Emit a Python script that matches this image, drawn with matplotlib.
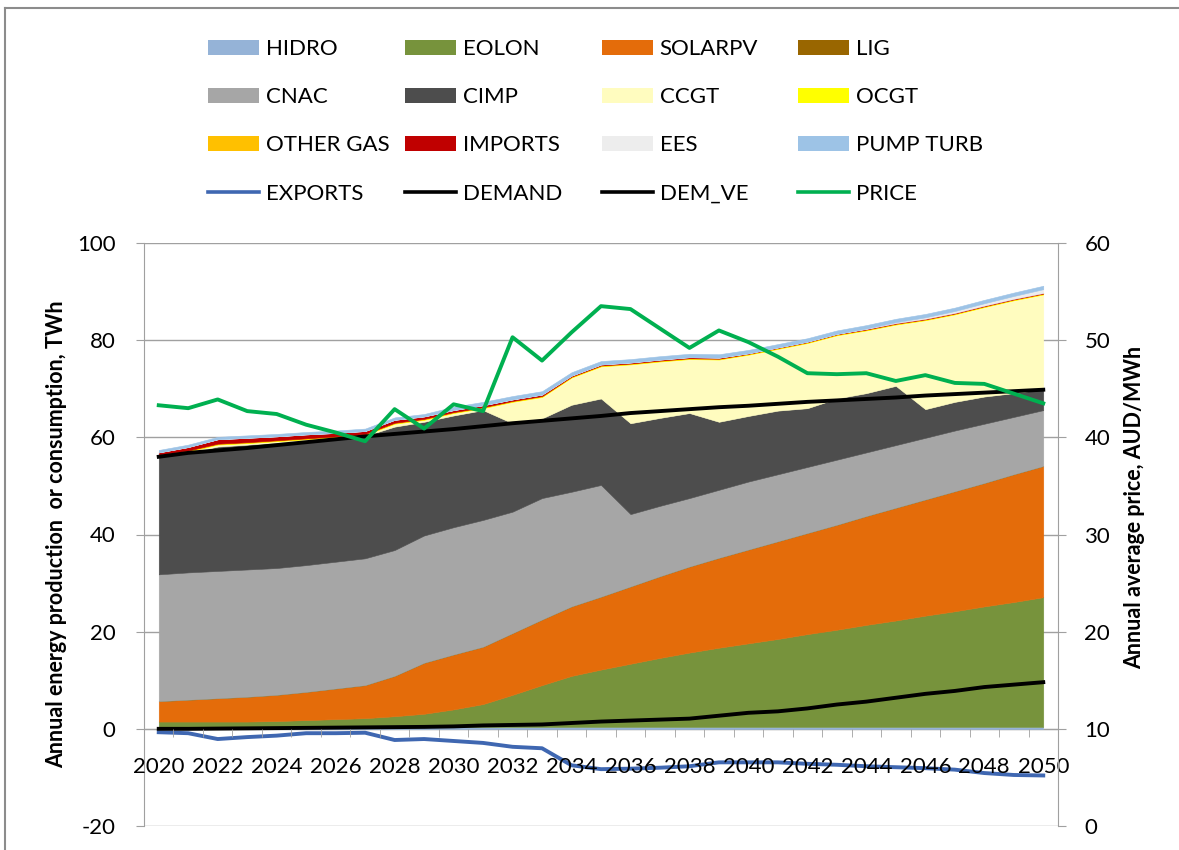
import numpy as np
import matplotlib
matplotlib.use('Agg')
from matplotlib import pyplot as plt
from matplotlib.patches import Patch
from matplotlib.lines import Line2D
from matplotlib.ticker import MultipleLocator, FixedLocator

plt.rcParams['font.family'] = ['Lato', 'DejaVu Sans']
plt.rcParams['font.size'] = 16
plt.rcParams['axes.unicode_minus'] = False

years = list(range(2020, 2051))

# generation by technology, TWh (stacked bottom to top)
hidro = [0.4] * 31
eolon = [1.1, 1.1, 1.1, 1.1, 1.2, 1.4, 1.6, 1.8, 2.2, 2.7, 3.6, 4.7, 6.6, 8.6, 10.5, 11.8,
         13.0, 14.2, 15.3, 16.3, 17.2, 18.1, 19.1, 20.0, 21.0, 21.9, 22.9, 23.8, 24.8, 25.7, 26.7]
solarpv = [4.2, 4.5, 4.8, 5.1, 5.4, 5.8, 6.3, 6.8, 8.3, 10.5, 11.3, 11.8, 12.7, 13.5, 14.3, 15.0,
           15.9, 16.8, 17.7, 18.5, 19.3, 20.1, 20.8, 21.6, 22.4, 23.2, 23.9, 24.7, 25.4, 26.3, 27.0]
lig = [0.0] * 31
cnac = [26.1, 26.2, 26.2, 26.2, 26.1, 26.1, 26.1, 26.1, 25.9, 26.2, 26.2, 26.1, 25.0, 25.0, 23.6, 23.0,
        14.9, 14.5, 14.1, 14.0, 14.0, 13.8, 13.6, 13.4, 13.1, 12.9, 12.7, 12.5, 12.2, 11.8, 11.5]
cimp = [24.2, 24.6, 25.6, 25.7, 25.8, 25.6, 25.4, 25.2, 25.4, 23.4, 23.0, 22.6, 18.2, 16.4, 17.9, 17.8,
        18.7, 18.1, 17.5, 14.0, 13.5, 13.1, 12.1, 12.6, 12.2, 12.2, 5.9, 5.9, 5.6, 4.9, 4.3]
ccgt = [0.2, 0.3, 0.4, 0.3, 0.3, 0.3, 0.2, 0.2, 0.6, 0.4, 0.5, 0.4, 4.4, 4.4, 5.6, 6.6,
        12.1, 11.6, 11.1, 12.8, 12.6, 12.7, 13.4, 13.0, 12.9, 12.6, 18.3, 18.0, 18.4, 19.1, 19.5]
ocgt = [0.1] * 31
other_gas = [0.1] * 31
imports = [0.5, 0.7, 0.9, 0.9, 0.8, 0.8, 0.7, 0.6, 0.6, 0.5, 0.4, 0.4, 0.3, 0.3, 0.2, 0.2,
           0.2, 0.2, 0.2, 0.2, 0.1, 0.1, 0.1, 0.1, 0.1, 0.1, 0.1, 0.1, 0.1, 0.1, 0.1]
ees = [0.0] * 24 + [0.1, 0.2, 0.3, 0.4, 0.5, 0.6, 0.8]
pump_turb = [0.5] * 10 + [0.7] * 21

exports = [-0.7, -0.9, -2.1, -1.7, -1.4, -0.9, -0.9, -0.8, -2.3, -2.1, -2.5, -2.9, -3.7, -4.0, -7.5, -8.3,
           -8.2, -8.0, -7.7, -6.9, -6.9, -6.9, -7.2, -7.4, -7.7, -7.9, -8.1, -8.4, -9.1, -9.5, -9.6]
demand = [56.0, 56.8, 57.3, 57.8, 58.4, 59.0, 59.6, 60.2, 60.7, 61.2, 61.7, 62.3, 62.9, 63.4, 63.9, 64.4,
          65.0, 65.4, 65.8, 66.2, 66.5, 66.9, 67.3, 67.6, 67.9, 68.2, 68.6, 68.9, 69.2, 69.5, 69.8]
dem_ve = [0.0, 0.0, 0.05, 0.1, 0.15, 0.2, 0.25, 0.3, 0.35, 0.4, 0.5, 0.7, 0.8, 0.9, 1.2, 1.5,
          1.7, 1.9, 2.1, 2.7, 3.3, 3.6, 4.2, 5.0, 5.6, 6.4, 7.2, 7.8, 8.6, 9.1, 9.6]
# annual average price, AUD/MWh (right axis)
price = [43.3, 43.0, 43.9, 42.7, 42.4, 41.3, 40.5, 39.6, 42.9, 40.9, 43.4, 42.7, 50.3, 47.9, 50.8, 53.5,
         53.2, 51.2, 49.2, 51.0, 49.8, 48.3, 46.6, 46.5, 46.6, 45.8, 46.4, 45.6, 45.5, 44.5, 43.5]

area_names = ['HIDRO', 'EOLON', 'SOLARPV', 'LIG', 'CNAC', 'CIMP', 'CCGT', 'OCGT',
              'OTHER GAS', 'IMPORTS', 'EES', 'PUMP TURB']
area_colors = ['#95B3D7', '#77933C', '#E46C0A', '#996600', '#A6A6A6', '#4D4D4D', '#FFFCBF', '#FFFF00',
               '#FFC000', '#C00000', '#EDEDED', '#9DC3E6']
areas = [hidro, eolon, solarpv, lig, cnac, cimp, ccgt, ocgt, other_gas, imports, ees, pump_turb]

fig = plt.figure(figsize=(11.79, 8.5), dpi=100)
ax = fig.add_axes([144 / 1179, 24 / 850, 914 / 1179, 583 / 850])

ax.stackplot(years, *areas, colors=area_colors, linewidth=0.4, edgecolor='face', zorder=2)
ax.plot(years, exports, color='#3F67B1', lw=2.8, zorder=3)
ax.plot(years, demand, color='black', lw=2.8, zorder=3)
ax.plot(years, dem_ve, color='black', lw=2.8, zorder=3)

ax.set_xlim(2019.5, 2050.5)
ax.set_ylim(-20, 100)
ax.yaxis.set_major_locator(MultipleLocator(20))
ax.grid(axis='y', color='#A0A0A0', lw=1)
ax.set_axisbelow(True)

ax.spines['top'].set_visible(False)
ax.spines['right'].set_visible(False)
ax.spines['left'].set_color('#A0A0A0')
ax.spines['bottom'].set_position(('data', 0))
ax.spines['bottom'].set_color('#A0A0A0')
ax.spines['bottom'].set_zorder(1)

ax.xaxis.set_major_locator(FixedLocator(years[::2]))
ax.xaxis.set_minor_locator(FixedLocator(np.arange(2020.5, 2050.6, 1)))
ax.tick_params(axis='x', which='major', length=0, pad=20, labelsize=16)
ax.tick_params(axis='x', which='minor', length=6, color='#A0A0A0')
ax.tick_params(axis='y', length=6, color='#A0A0A0', pad=14.5, labelsize=16)
ax.xaxis.set_zorder(4)  # year labels sit over the exports line

ax2 = ax.twinx()
ax2.plot(years, price, color='#00B050', lw=2.8)
ax2.set_ylim(0, 60)
ax2.yaxis.set_major_locator(MultipleLocator(10))
for s in ['top', 'bottom', 'left']:
    ax2.spines[s].set_visible(False)
ax2.spines['right'].set_color('#A0A0A0')
ax2.tick_params(axis='y', length=6, color='#A0A0A0', pad=13, labelsize=16)

fig.text(57 / 1179, 1 - 534 / 850, 'Annual energy production  or consumption, TWh', rotation=90,
         ha='center', va='center', fontsize=15.5, fontweight='bold')
fig.text(1135 / 1179, 1 - 507 / 850, 'Annual average price, AUD/MWh', rotation=90,
         ha='center', va='center', fontsize=15.5, fontweight='bold')

# legend: 4 columns, row-major like the original
handles = [Patch(facecolor=c, edgecolor='none') for c in area_colors]
handles += [Line2D([], [], color='#3F67B1', lw=2.6), Line2D([], [], color='black', lw=2.6),
            Line2D([], [], color='black', lw=2.6), Line2D([], [], color='#00B050', lw=2.6)]
labels = area_names + ['EXPORTS', 'DEMAND', 'DEM_VE', 'PRICE']
col_x = [208, 405, 602, 798]
for c in range(4):
    fig.legend([handles[r * 4 + c] for r in range(4)], [labels[r * 4 + c] for r in range(4)],
               loc='upper left', bbox_to_anchor=(col_x[c] / 1179, 1 - 39 / 850),
               frameon=False, borderpad=0, borderaxespad=0, handlelength=2.3,
               handleheight=0.65, handletextpad=0.3, labelspacing=1.27, fontsize=16)

# chart area border
fig.add_artist(Line2D([5 / 1179, 5 / 1179], [0, 1 - 8 / 850], transform=fig.transFigure,
                      color='#8C8C8C', lw=1.5))
fig.add_artist(Line2D([5 / 1179, 1], [1 - 8 / 850, 1 - 8 / 850], transform=fig.transFigure,
                      color='#8C8C8C', lw=1.5))

fig.savefig('out.png', dpi=100)
